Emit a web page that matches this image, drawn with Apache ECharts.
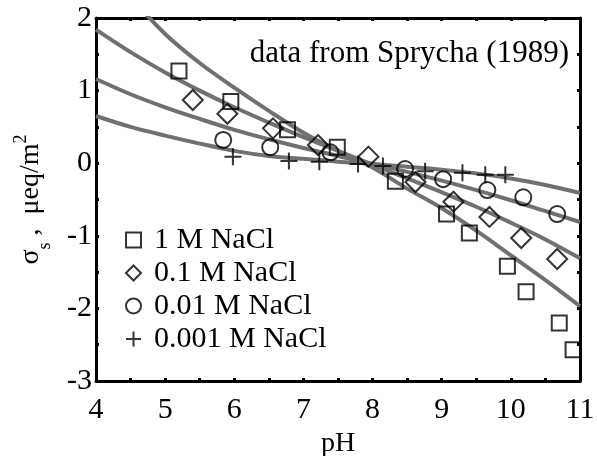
<!DOCTYPE html>
<html>
<head>
<meta charset="utf-8">
<script src="https://cdn.jsdelivr.net/npm/echarts@6/dist/echarts.min.js"></script>
<style>
  html, body { margin: 0; padding: 0; background: #fff; }
  #chart { width: 597px; height: 456px; }
</style>
</head>
<body>
<div id="chart"></div>
<script>
// Surface charge density of hematite vs pH at four NaCl concentrations
const seriesNames = ['1 M NaCl', '0.1 M NaCl', '0.01 M NaCl', '0.001 M NaCl'];

// measured points: [pH, sigma_s (µeq/m²)]
const data1M = [[5.2, 1.27], [5.95, 0.85], [6.77, 0.46], [7.49, 0.22], [8.33, -0.25], [9.07, -0.70],
                [9.4, -0.96], [9.95, -1.42], [10.22, -1.77], [10.7, -2.2], [10.9, -2.57]];
const data01M = [[5.4, 0.87], [5.9, 0.68], [6.56, 0.48], [7.21, 0.25], [7.94, 0.09], [8.62, -0.26],
                 [9.17, -0.53], [9.69, -0.74], [10.15, -1.03], [10.67, -1.32]];
const data001M = [[5.84, 0.32], [6.52, 0.22], [7.39, 0.15], [8.47, -0.08], [9.02, -0.22], [9.66, -0.37],
                  [10.18, -0.47], [10.67, -0.70]];
const data0001M = [[5.98, 0.09], [6.79, 0.03], [7.23, 0.02], [7.79, -0.01], [8.15, -0.04], [8.76, -0.11],
                   [9.3, -0.13], [9.63, -0.16], [9.92, -0.16]];

// model curves sampled on a pH grid
const curvePH = [4, 4.5, 5, 5.5, 6, 6.5, 7, 7.5, 8, 8.5, 9, 9.5, 10, 10.5, 11];
const fit1M = [2.95, 2.3, 1.78, 1.38, 1.04, 0.72, 0.42, 0.17, -0.06, -0.35, -0.62, -0.93, -1.27, -1.61, -1.97];
const fit01M = [1.84, 1.53, 1.25, 1.00, 0.77, 0.56, 0.36, 0.17, -0.02, -0.21, -0.40, -0.60, -0.82, -1.05, -1.31];
const fit001M = [1.16, 0.95, 0.77, 0.61, 0.46, 0.33, 0.21, 0.10, -0.01, -0.12, -0.24, -0.37, -0.51, -0.66, -0.81];
const fit0001M = [0.65, 0.50, 0.38, 0.27, 0.17, 0.10, 0.06, 0.02, -0.01, -0.05, -0.09, -0.14, -0.21, -0.30, -0.41];

const xTicks = { min: 4, max: 11 };
const yTicks = { min: -3, max: 2 };

const FONT = 'Liberation Serif, Times New Roman, serif';
const plusPath = 'path://M0,5L10,5M5,0L5,10';

const chart = echarts.init(document.getElementById('chart'), null, { renderer: 'canvas' });

function pair(xs, ys) { return xs.map((x, i) => [x, ys[i]]); }

function curve(ys) {
  return {
    type: 'line', data: pair(curvePH, ys), smooth: 0.35, symbol: 'none', clip: true,
    lineStyle: { color: '#707070', width: 4 }, silent: true, z: 1, legendHoverLink: false
  };
}

function points(name, data, symbol, size) {
  return {
    name, type: 'scatter', data, symbol, symbolSize: size, z: 3,
    itemStyle: { color: 'rgba(255,255,255,0)', borderColor: '#000', borderWidth: 2 }
  };
}

const tickLabel = { fontFamily: FONT, fontSize: 30, color: '#000' };

const baseX = {
  type: 'value', min: xTicks.min, max: xTicks.max, interval: 0.5,
  axisLine: { show: true, onZero: false, lineStyle: { color: '#000', width: 3 } },
  axisTick: { show: true, inside: true, length: 3, lineStyle: { color: '#000', width: 3 } },
  splitLine: { show: false }
};
const baseY = {
  type: 'value', min: yTicks.min, max: yTicks.max, interval: 0.5,
  axisLine: { show: true, onZero: false, lineStyle: { color: '#000', width: 3 } },
  axisTick: { show: true, inside: true, length: 3, lineStyle: { color: '#000', width: 3 } },
  splitLine: { show: false }
};
const intOnly = v => (Math.abs(v - Math.round(v)) < 1e-6 ? String(Math.round(v)) : '');

chart.setOption({
  animation: false,
  backgroundColor: '#fff',
  grid: { left: 96, right: 17, top: 18, bottom: 75, containLabel: false, outerBoundsMode: 'none' },
  xAxis: [
    Object.assign({}, baseX, {
      position: 'bottom',
      axisLabel: Object.assign({ margin: 14, formatter: intOnly, showMinLabel: true, showMaxLabel: true }, tickLabel),
      name: 'pH', nameLocation: 'middle', nameGap: 45,
      nameTextStyle: { fontFamily: FONT, fontSize: 28, color: '#000' }
    }),
    Object.assign({}, baseX, { position: 'top', axisLabel: { show: false } })
  ],
  yAxis: [
    Object.assign({}, baseY, {
      position: 'left',
      axisLabel: Object.assign({ margin: 4, formatter: intOnly }, tickLabel),
      name: '{s|σ}{sub|s}{s| ,  μeq/m}{sup|2}',
      nameLocation: 'middle', nameRotate: 90, nameGap: 48,
      nameTextStyle: {
        fontFamily: FONT, fontSize: 28, color: '#000',
        rich: {
          s: { fontFamily: FONT, fontSize: 28, color: '#000', lineHeight: 34 },
          sub: { fontFamily: FONT, fontSize: 18, color: '#000', lineHeight: 34, verticalAlign: 'bottom', padding: [0, 0, -6, 0] },
          sup: { fontFamily: FONT, fontSize: 18, color: '#000', lineHeight: 34, verticalAlign: 'top', padding: [-2, 0, 0, 0] }
        }
      }
    }),
    Object.assign({}, baseY, { position: 'right', axisLabel: { show: false } })
  ],
  legend: {
    orient: 'vertical', left: 120, top: 220,
    itemWidth: 15, itemHeight: 15, itemGap: 3,
    data: seriesNames,
    textStyle: { fontFamily: FONT, fontSize: 30, color: '#000', lineHeight: 30, padding: [0, 0, 0, 8] },
    itemStyle: { color: 'rgba(255,255,255,0)', borderColor: '#000', borderWidth: 2 }
  },
  graphic: [{
    type: 'text', right: 28, top: 38,
    style: { text: 'data from Sprycha (1989)', font: '31px ' + FONT, fill: '#000' }
  }],
  series: [
    curve(fit1M), curve(fit01M), curve(fit001M), curve(fit0001M),
    points(seriesNames[0], data1M, 'rect', 15),
    points(seriesNames[1], data01M, 'diamond', [20, 20]),
    points(seriesNames[2], data001M, 'circle', 16),
    points(seriesNames[3], data0001M, plusPath, 17)
  ]
});
</script>
</body>
</html>
